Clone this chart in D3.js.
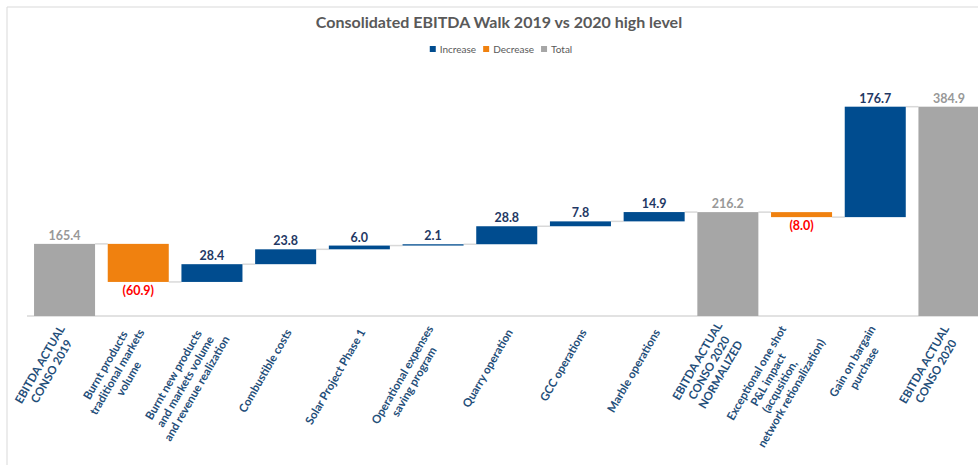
<!DOCTYPE html>
<html>
<head>
<meta charset="UTF-8" />
<title>Consolidated EBITDA Walk</title>
<script src="https://d3js.org/d3.v7.min.js"></script>
<style>
  body { margin: 0; background: #fff; }
  text { font-family: Lato, "Open Sans", sans-serif; }
</style>
</head>
<body>
<svg id="chart" width="978" height="465"></svg>
<script>
// data
var categories = [
  ["EBITDA ACTUAL", "CONSO 2019"],
  ["Burnt products", "traditional markets", "volume"],
  ["Burnt new products", "and markets volume", "and revenue realization"],
  ["Combustible costs"],
  ["Solar Project Phase 1"],
  ["Operational expenses", "saving program"],
  ["Quarry operation"],
  ["GCC operations"],
  ["Marble operations"],
  ["EBITDA ACTUAL", "CONSO 2020", "NORMALIZED"],
  ["Exceptional one shot", "P&L impact", "(acqusition,", "network retionalization)"],
  ["Gain on bargain", "purchase"],
  ["EBITDA ACTUAL", "CONSO 2020"]
]
var values = [165.4, -60.9, 28.4, 23.8, 6.0, 2.1, 28.8, 7.8, 14.9, 216.2, -8.0, 176.7, 384.9]
var kinds = ["total", "step", "step", "step", "step", "step", "step", "step", "step", "total", "step", "step", "total"]
var legendItems = ["Increase", "Decrease", "Total"]
var yDomain = [50, 450]

// colours
var blue = "#004c8f"
var orange = "#f0810f"
var gray = "#a6a6a6"
var navy = "#1f3864"
var labelBlue = "#1f4e79"
var lineGray = "#d9d9d9"

var svg = d3.select("#chart")

// chart frame
svg.append("path").attr("d", "M7,470V7H990").attr("fill", "none").attr("stroke", lineGray).attr("stroke-width", 1)

// waterfall start / end levels
var level = 0
var rows = values.map(function(v, i) {
  var r = {i: i, v: v, kind: kinds[i]}
  if (r.kind == "total") { r.start = yDomain[0]; r.end = v; level = v }
  else { r.start = level; r.end = level + v; level = r.end; r.kind = v < 0 ? "dec" : "inc" }
  return r
})

var x = d3.scaleBand().domain(d3.range(values.length)).range([27.7, 985.8]).paddingInner(0.172).paddingOuter(0.086)
var y = d3.scaleLinear().domain(yDomain).range([316, 66])
var fill = {total: gray, inc: blue, dec: orange}

// baseline
svg.append("line").attr("x1", 27).attr("x2", 990).attr("y1", y(yDomain[0])).attr("y2", y(yDomain[0]))
  .attr("stroke", lineGray).attr("stroke-width", 1.5)

// connectors
svg.append("g").selectAll("line").data(rows.slice(0, -1)).join("line")
  .attr("x1", function(d) { return x(d.i) + x.bandwidth() })
  .attr("x2", function(d) { return x(d.i + 1) })
  .attr("y1", function(d) { return y(d.kind == "total" ? d.v : d.end) })
  .attr("y2", function(d) { return y(d.kind == "total" ? d.v : d.end) })
  .attr("stroke", lineGray).attr("stroke-width", 1.5)

// bars
svg.append("g").selectAll("rect").data(rows).join("rect")
  .attr("x", function(d) { return x(d.i) })
  .attr("width", x.bandwidth())
  .attr("y", function(d) { return y(Math.max(d.start, d.end)) })
  .attr("height", function(d) { return Math.max(1, Math.abs(y(d.start) - y(d.end))) })
  .attr("fill", function(d) { return fill[d.kind] })

// value labels
var fmt = d3.format(".1f")
svg.append("g").selectAll("text").data(rows).join("text")
  .attr("x", function(d) { return x(d.i) + x.bandwidth() / 2 })
  .attr("y", function(d) {
    if (d.kind == "dec") return y(d.end) + 13
    return y(Math.max(d.start, d.end)) - 4
  })
  .attr("text-anchor", "middle")
  .attr("font-size", "12.5px").attr("font-weight", "bold")
  .attr("fill", function(d) { return d.kind == "total" ? "#989898" : d.kind == "dec" ? "#ff0000" : navy })
  .text(function(d) { return d.v < 0 ? "(" + fmt(-d.v) + ")" : fmt(d.v) })

// category labels, rotated, lines centred, right edge middle on the tick
var lh = 13.5
categories.forEach(function(lines, i) {
  var cx = x(i) + x.bandwidth() / 2
  var g = svg.append("g").attr("transform", "translate(" + (cx + 3) + ",330) rotate(-60)")
  var ts = lines.map(function(s, j) {
    return g.append("text").attr("text-anchor", "middle")
      .attr("font-size", "11.5px").attr("font-weight", "bold").attr("fill", labelBlue)
      .attr("y", (j - (lines.length - 1) / 2) * lh).attr("dy", "0.35em").text(s)
  })
  var w = d3.max(ts, function(t) { return t.node().getComputedTextLength() })
  ts.forEach(function(t) { t.attr("x", -w / 2) })
})

// title
svg.append("text").attr("x", 499).attr("y", 28).attr("text-anchor", "middle")
  .attr("font-size", "16px").attr("font-weight", "bold").attr("fill", "#595959")
  .text("Consolidated EBITDA Walk 2019 vs 2020 high level")

// legend
var legend = svg.append("g")
var lx = 0
var legendColors = [blue, orange, gray]
legendItems.forEach(function(name, i) {
  var item = legend.append("g").attr("transform", "translate(" + lx + ",0)")
  item.append("rect").attr("x", 0).attr("y", 46).attr("width", 6).attr("height", 6).attr("fill", legendColors[i])
  var t = item.append("text").attr("x", 10).attr("y", 52.5).attr("font-size", "10px").attr("fill", "#595959").text(name)
  lx += 10 + t.node().getComputedTextLength() + 7
})
var lw = lx - 7
legend.attr("transform", "translate(" + (501 - lw / 2) + ",0)")
</script>
</body>
</html>
